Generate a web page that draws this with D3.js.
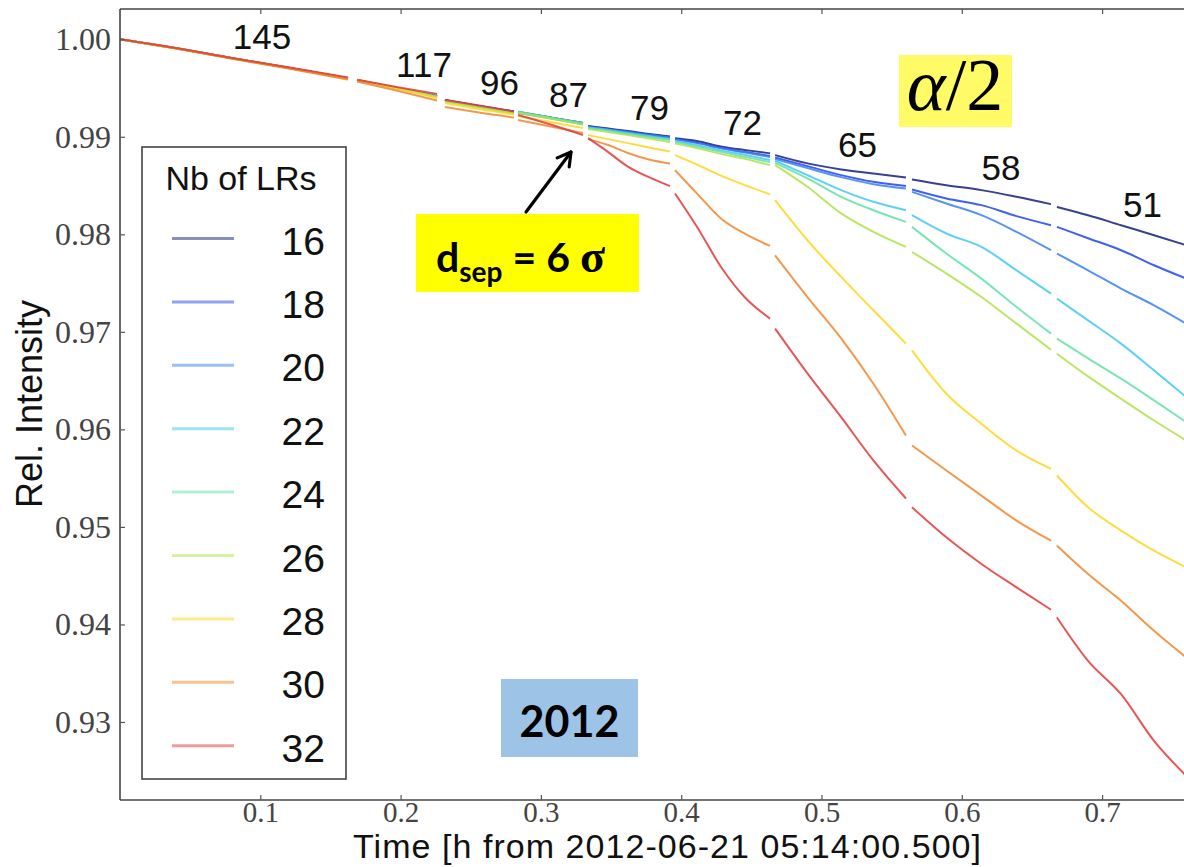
<!DOCTYPE html>
<html>
<head>
<meta charset="utf-8">
<script src="https://cdn.jsdelivr.net/npm/d3@7"></script>
<style>
  html, body { margin: 0; padding: 0; background: #fff; overflow: hidden; }
</style>
</head>
<body>
<svg id="chart" width="1184" height="867"></svg>
<script>
// Time stamps (h) of each fill segment; the data stops between fills
const segmentTimes = [
  [0.000, 0.040, 0.080, 0.120, 0.1625],
  [0.169, 0.197, 0.226],
  [0.2316, 0.256, 0.2808],
  [0.2837, 0.307, 0.330],
  [0.3336, 0.348, 0.362, 0.377, 0.392],
  [0.3956, 0.411, 0.429, 0.446, 0.4633],
  [0.4669, 0.490, 0.514, 0.537, 0.5602],
  [0.5645, 0.589, 0.614, 0.639, 0.6636],
  [0.6678, 0.690, 0.7135, 0.737, 0.760]
];

// Relative intensity per number of long-range encounters, one array per segment
const lr16 = [
  [1.00000, 0.99908, 0.99805, 0.99708, 0.99600],
  [0.99582, 0.99500, 0.99413],
  [0.99377, 0.99315, 0.99259],
  [0.99254, 0.99197, 0.99141],
  [0.99110, 0.99084, 0.99059, 0.99028, 0.99002],
  [0.98984, 0.98956, 0.98899, 0.98863, 0.98830],
  [0.98812, 0.98727, 0.98665, 0.98624, 0.98583],
  [0.98563, 0.98504, 0.98453, 0.98384, 0.98309],
  [0.98281, 0.98196, 0.98093, 0.97991, 0.97888]
];
const lr18 = [
  [1.00000, 0.99907, 0.99806, 0.99707, 0.99601],
  [0.99582, 0.99500, 0.99418],
  [0.99377, 0.99315, 0.99259],
  [0.99254, 0.99197, 0.99141],
  [0.99105, 0.99079, 0.99053, 0.99023, 0.98997],
  [0.98976, 0.98940, 0.98884, 0.98843, 0.98802],
  [0.98788, 0.98699, 0.98607, 0.98538, 0.98494],
  [0.98460, 0.98368, 0.98299, 0.98186, 0.98093],
  [0.98076, 0.97960, 0.97837, 0.97683, 0.97546]
];
const lr20 = [
  [1.00000, 0.99909, 0.99805, 0.99709, 0.99599],
  [0.99582, 0.99500, 0.99413],
  [0.99372, 0.99310, 0.99254],
  [0.99248, 0.99192, 0.99136],
  [0.99100, 0.99074, 0.99048, 0.99017, 0.98992],
  [0.98971, 0.98935, 0.98879, 0.98838, 0.98792],
  [0.98771, 0.98679, 0.98586, 0.98514, 0.98470],
  [0.98435, 0.98316, 0.98196, 0.98025, 0.97837],
  [0.97803, 0.97631, 0.97444, 0.97272, 0.97084]
];
const lr22 = [
  [1.00000, 0.99908, 0.99804, 0.99707, 0.99598],
  [0.99582, 0.99500, 0.99408],
  [0.99367, 0.99305, 0.99243],
  [0.99243, 0.99187, 0.99125],
  [0.99094, 0.99069, 0.99038, 0.99007, 0.98976],
  [0.98956, 0.98915, 0.98858, 0.98812, 0.98761],
  [0.98754, 0.98607, 0.98453, 0.98333, 0.98247],
  [0.98196, 0.98008, 0.97871, 0.97631, 0.97392],
  [0.97341, 0.97118, 0.96879, 0.96605, 0.96331]
];
const lr24 = [
  [1.00000, 0.99909, 0.99806, 0.99708, 0.99600],
  [0.99582, 0.99500, 0.99413],
  [0.99367, 0.99305, 0.99243],
  [0.99259, 0.99197, 0.99141],
  [0.99089, 0.99059, 0.99028, 0.98997, 0.98966],
  [0.98946, 0.98899, 0.98843, 0.98792, 0.98740],
  [0.98733, 0.98573, 0.98384, 0.98247, 0.98127],
  [0.98076, 0.97803, 0.97546, 0.97255, 0.96982],
  [0.96930, 0.96728, 0.96520, 0.96297, 0.96074]
];
const lr26 = [
  [1.00000, 0.99907, 0.99804, 0.99706, 0.99597],
  [0.99582, 0.99500, 0.99408],
  [0.99361, 0.99300, 0.99238],
  [0.99248, 0.99187, 0.99125],
  [0.99079, 0.99048, 0.99017, 0.98982, 0.98946],
  [0.98930, 0.98884, 0.98822, 0.98771, 0.98709],
  [0.98709, 0.98487, 0.98214, 0.98025, 0.97871],
  [0.97819, 0.97598, 0.97357, 0.97084, 0.96817],
  [0.96776, 0.96543, 0.96314, 0.96091, 0.95886]
];
const lr28 = [
  [1.00000, 0.99906, 0.99803, 0.99704, 0.99592],
  [0.99580, 0.99495, 0.99397],
  [0.99346, 0.99284, 0.99228],
  [0.99213, 0.99151, 0.99089],
  [0.99017, 0.98976, 0.98935, 0.98889, 0.98848],
  [0.98812, 0.98717, 0.98597, 0.98501, 0.98409],
  [0.98350, 0.97939, 0.97563, 0.97221, 0.96879],
  [0.96810, 0.96365, 0.96057, 0.95783, 0.95596],
  [0.95527, 0.95201, 0.94962, 0.94757, 0.94585]
];
const lr30 = [
  [1.00000, 0.99905, 0.99800, 0.99700, 0.99587],
  [0.99567, 0.99474, 0.99372],
  [0.99305, 0.99248, 0.99197],
  [0.99171, 0.99105, 0.99038],
  [0.98976, 0.98915, 0.98833, 0.98766, 0.98725],
  [0.98658, 0.98422, 0.98155, 0.98001, 0.97881],
  [0.97785, 0.97357, 0.96933, 0.96468, 0.95937],
  [0.95835, 0.95578, 0.95321, 0.95065, 0.94859],
  [0.94808, 0.94517, 0.94243, 0.93935, 0.93661]
];
const lr32 = [
  [1.00000, 0.99910, 0.99808, 0.99712, 0.99608],
  [0.99585, 0.99510, 0.99438],
  [0.99377, 0.99320, 0.99259],
  [0.99223, 0.99125, 0.99017],
  [0.98987, 0.98843, 0.98694, 0.98586, 0.98494],
  [0.98419, 0.98083, 0.97652, 0.97344, 0.97136],
  [0.97033, 0.96574, 0.96125, 0.95681, 0.95291],
  [0.95201, 0.94893, 0.94620, 0.94380, 0.94151],
  [0.94072, 0.93627, 0.93285, 0.92806, 0.92447]
];

const seriesNames = ["16", "18", "20", "22", "24", "26", "28", "30", "32"];
const seriesValues = [lr16, lr18, lr20, lr22, lr24, lr26, lr28, lr30, lr32];

// Bunch counts per fill, with the (time, level) where each is printed
const fillLabels = ["145", "117", "96", "87", "79", "72", "65", "58", "51"];
const fillLabelTimes = [0.1012, 0.2167, 0.2705, 0.3197, 0.3774, 0.4437, 0.5257, 0.6279, 0.7288];
const fillLabelLevels = [0.99901, 0.99613, 0.99429, 0.99306, 0.99173, 0.99019, 0.98793, 0.98557, 0.98177];

const xTicks = [0.1, 0.2, 0.3, 0.4, 0.5, 0.6, 0.7];
const yTicks = [0.93, 0.94, 0.95, 0.96, 0.97, 0.98, 0.99, 1.00];

const colors = ["#14207a", "#1f45ea", "#3a80f2", "#42c8f2", "#62e0a6", "#aee24a", "#ffd61c", "#f0862e", "#e2383a"];

const svg = d3.select("#chart");
const W = 1184, H = 867;
const margin = { left: 120, top: 9, bottom: 800 };

const x = d3.scaleLinear().domain([0, 0.8]).range([margin.left, margin.left + 0.8 * 1403]);
const y = d3.scaleLinear().domain([0.9220, 1.0031]).range([margin.bottom, margin.top]);

const serif = "'Liberation Serif', 'DejaVu Serif', serif";
const sans = "'Liberation Sans', Arial, sans-serif";
const bold = "Lato, 'Open Sans', sans-serif";

// clip for curves
svg.append("defs").append("clipPath").attr("id", "plotClip")
  .append("rect").attr("x", margin.left).attr("y", margin.top)
  .attr("width", W - margin.left).attr("height", margin.bottom - margin.top);

// curves, one path per fill segment
const line = d3.line()
  .x(d => x(d[0]))
  .y(d => y(d[1]))
  .curve(d3.curveMonotoneX);

const curves = svg.append("g").attr("clip-path", "url(#plotClip)");
seriesValues.forEach((segs, i) => {
  segs.forEach((vals, s) => {
    const pts = vals.map((v, k) => [segmentTimes[s][k], v]);
    curves.append("path")
      .attr("d", line(pts))
      .attr("fill", "none")
      .attr("stroke", colors[i])
      .attr("stroke-width", 2)
      .attr("stroke-opacity", 0.85)
      .attr("stroke-linejoin", "round");
  });
});

// frame (left, top, bottom spines)
const frame = svg.append("g").attr("stroke", "#444").attr("stroke-width", 1.6).attr("fill", "none");
frame.append("line").attr("x1", x(0)).attr("x2", x(0)).attr("y1", margin.top).attr("y2", margin.bottom);
frame.append("line").attr("x1", x(0)).attr("x2", W).attr("y1", margin.top).attr("y2", margin.top);
frame.append("line").attr("x1", x(0)).attr("x2", W).attr("y1", margin.bottom).attr("y2", margin.bottom);

// bottom axis (ticks pointing inward)
const xAxis = d3.axisBottom(x).tickValues(xTicks).tickFormat(d3.format(".1f")).tickSize(-5).tickPadding(1);
const gx = svg.append("g").attr("transform", `translate(0,${margin.bottom})`).call(xAxis);
gx.select(".domain").remove();
gx.selectAll(".tick line").attr("stroke", "#555").attr("stroke-width", 1.2);
gx.selectAll(".tick text").attr("font-family", serif).attr("font-size", 29).attr("fill", "#444");

// top axis ticks only
const xTop = d3.axisTop(x).tickValues(xTicks).tickSize(-5).tickFormat("");
const gxt = svg.append("g").attr("transform", `translate(0,${margin.top})`).call(xTop);
gxt.select(".domain").remove();
gxt.selectAll(".tick line").attr("stroke", "#555").attr("stroke-width", 1.2);

// left axis
const yAxis = d3.axisLeft(y).tickValues(yTicks).tickFormat(d3.format(".2f")).tickSize(-5).tickPadding(9);
const gy = svg.append("g").attr("transform", `translate(${margin.left},0)`).call(yAxis);
gy.select(".domain").remove();
gy.selectAll(".tick line").attr("stroke", "#555").attr("stroke-width", 1.2);
gy.selectAll(".tick text").attr("font-family", serif).attr("font-size", 32).attr("fill", "#444");

// axis titles
svg.append("text")
  .attr("x", 353).attr("y", 858)
  .attr("text-anchor", "start")
  .attr("font-family", sans).attr("font-size", 34).attr("fill", "#111")
  .attr("textLength", 628).attr("lengthAdjust", "spacing")
  .text("Time [h from 2012-06-21 05:14:00.500]");
svg.append("text")
  .attr("transform", "translate(42,404) rotate(-90)")
  .attr("text-anchor", "middle")
  .attr("font-family", sans).attr("font-size", 36).attr("fill", "#111")
  .text("Rel. Intensity");

// bunch-count labels per fill
svg.append("g").selectAll("text")
  .data(fillLabels)
  .join("text")
  .attr("x", (d, i) => x(fillLabelTimes[i]))
  .attr("y", (d, i) => y(fillLabelLevels[i]))
  .attr("text-anchor", "middle")
  .attr("font-family", sans).attr("font-size", 35).attr("fill", "#111")
  .text(d => d);

// legend
const legend = svg.append("g");
legend.append("rect")
  .attr("x", 142).attr("y", 147).attr("width", 204).attr("height", 632)
  .attr("fill", "#fff").attr("stroke", "#444").attr("stroke-width", 1.6);
legend.append("text")
  .attr("x", 241).attr("y", 190)
  .attr("text-anchor", "middle")
  .attr("font-family", sans).attr("font-size", 34).attr("fill", "#111")
  .text("Nb of LRs");
const legendRow = d3.scaleLinear().domain([0, 8]).range([238.5, 745.7]);
seriesNames.forEach((name, i) => {
  const ly = legendRow(i);
  legend.append("line")
    .attr("x1", 172).attr("x2", 234).attr("y1", ly).attr("y2", ly)
    .attr("stroke", colors[i]).attr("stroke-width", 3).attr("stroke-opacity", 0.5);
  legend.append("text")
    .attr("x", 325).attr("y", ly + 16)
    .attr("text-anchor", "end")
    .attr("font-family", sans).attr("font-size", 39).attr("fill", "#111")
    .text(name);
});

// alpha/2 tag
const tag = svg.append("g");
tag.append("rect").attr("x", 899).attr("y", 55).attr("width", 113).attr("height", 72).attr("fill", "#fffb66");
const at = tag.append("text")
  .attr("x", 955).attr("y", 110)
  .attr("text-anchor", "middle")
  .attr("font-family", serif).attr("font-size", 74).attr("fill", "#000");
at.append("tspan").attr("font-style", "italic").text("α");
at.append("tspan").text("/2");

// separation note with arrow
const note = svg.append("g");
note.append("rect").attr("x", 416).attr("y", 214).attr("width", 223).attr("height", 78).attr("fill", "#ffff00");
const nt = note.append("text")
  .attr("x", 436).attr("y", 272)
  .attr("font-family", bold).attr("font-weight", "bold")
  .attr("font-size", 41).attr("fill", "#000");
nt.append("tspan").text("d");
nt.append("tspan").attr("font-size", 28).attr("dy", 10).text("sep");
nt.append("tspan").attr("dy", -10).text(" = 6 ");
nt.append("tspan").attr("font-family", serif).attr("font-size", 46).text("σ");

const tail = [526, 212], tip = [571, 152];
const ang = Math.atan2(tip[1] - tail[1], tip[0] - tail[0]);
const headLen = 15, spread = Math.PI / 6;
note.append("line")
  .attr("x1", tail[0]).attr("y1", tail[1]).attr("x2", tip[0]).attr("y2", tip[1])
  .attr("stroke", "#000").attr("stroke-width", 3.2).attr("stroke-linecap", "round");
note.append("path")
  .attr("d", d3.line()([
    [tip[0] - headLen * Math.cos(ang - spread), tip[1] - headLen * Math.sin(ang - spread)],
    tip,
    [tip[0] - headLen * Math.cos(ang + spread), tip[1] - headLen * Math.sin(ang + spread)]
  ]))
  .attr("fill", "none").attr("stroke", "#000").attr("stroke-width", 3.2)
  .attr("stroke-linejoin", "round").attr("stroke-linecap", "round");

// year tag
const yr = svg.append("g");
yr.append("rect").attr("x", 501).attr("y", 679).attr("width", 137).attr("height", 78).attr("fill", "#9dc3e6");
yr.append("text")
  .attr("x", 569.5).attr("y", 737)
  .attr("text-anchor", "middle")
  .attr("font-family", bold).attr("font-weight", "bold")
  .attr("font-size", 43).attr("fill", "#000")
  .text("2012");
</script>
</body>
</html>
